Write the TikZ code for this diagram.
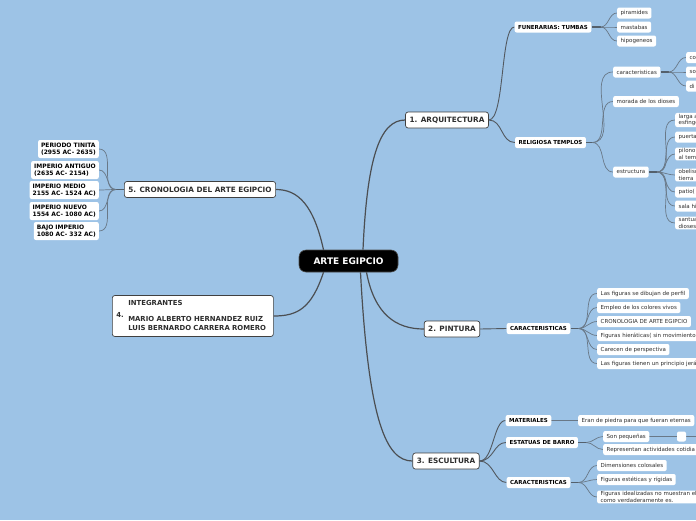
\documentclass[tikz,border=0pt]{standalone}
\usepackage{fontspec}
\setmainfont{DejaVu Sans}
\definecolor{bg}{RGB}{157,195,230}
\definecolor{ln}{RGB}{75,78,82}
\definecolor{brc}{RGB}{105,120,135}
\definecolor{tx}{RGB}{45,45,45}
\pgfdeclarelayer{bglayer}
\pgfdeclarelayer{lines}
\pgfsetlayers{bglayer,lines,main}
\begin{document}
\begin{tikzpicture}[x=1pt,y=-1pt,
 root/.style={fill=black,text=white,rounded corners=7pt,font=\fontsize{9}{10}\selectfont\bfseries,minimum width=99pt,minimum height=22pt,inner sep=2pt,draw=black!70,line width=0.6pt},
 topic/.style={fill=white,draw=black!75,line width=0.7pt,rounded corners=2.5pt,font=\fontsize{7.3}{8.5}\selectfont\bfseries,text=tx,minimum height=16pt,inner xsep=4pt,inner ysep=1pt},
 sub/.style={fill=white,rounded corners=2pt,font=\fontsize{5.5}{6.6}\selectfont\bfseries,text=black,minimum height=11pt,inner xsep=3.5pt,inner ysep=1pt},
 csub/.style={sub,font=\fontsize{6}{7}\selectfont\bfseries,align=left,anchor=east,minimum height=18pt,inner xsep=3pt},
 leaf/.style={fill=white,rounded corners=2pt,font=\fontsize{5.5}{6.7}\selectfont,text=tx,minimum height=11pt,inner xsep=3.5pt,inner ysep=1pt,anchor=west},
 cutleaf/.style={leaf,align=left,text width=40pt},
 mainln/.style={draw=ln,line width=1.2pt},
 toln/.style={draw=ln!75!brc,line width=0.9pt},
 brln/.style={draw=brc,line width=0.7pt},
 stub/.style={draw=brc!80!black,line width=1.8pt}]
\begin{pgfonlayer}{bglayer}
\fill[bg] (0,0) rectangle (696,520);
\end{pgfonlayer}
\useasboundingbox (0,0) rectangle (696,520);

% ---- nodes ----
\node[root] (root) at (348.5,261) {ARTE EGIPCIO};
\node[topic] (arq) at (447,120) {1. ARQUITECTURA};
\node[topic] (pin) at (452,329) {2. PINTURA};
\node[topic] (esc) at (446,461) {3. ESCULTURA};
\node[topic] (cro) at (200,189.5) {5. CRONOLOGIA DEL ARTE EGIPCIO};
\node[topic,text width=153pt,minimum height=41pt,font=\fontsize{6.9}{8.4}\selectfont\bfseries,anchor=west,inner xsep=4pt] (int) at (112,316)
 {4.\hspace{4.5pt}\begin{tabular}[c]{@{}l@{}}INTEGRANTES\\ \\ MARIO ALBERTO HERNANDEZ RUIZ\\ LUIS BERNARDO CARRERA ROMERO\end{tabular}};

% arquitectura
\node[sub] (fun) at (553,27) {FUNERARIAS: TUMBAS};
\node[sub] (rel) at (550.5,142.5) {RELIGIOSA TEMPLOS};
\node[leaf] (pir) at (617,13) {piramides};
\node[leaf] (mas) at (617,27) {mastabas};
\node[leaf] (hip) at (617,41) {hipogeneos};
\node[leaf] (car) at (613,72) {caracteristicas};
\node[leaf] (mor) at (613,101.5) {morada de los dioses};
\node[leaf] (est) at (613,172) {estructura};
\node[cutleaf] (co) at (686,57.5) {co};
\node[cutleaf] (so) at (686,72) {so};
\node[cutleaf] (di) at (686,86) {di};
\node[cutleaf] (e1) at (675,120) {larga a\\esfinge};
\node[cutleaf] (e2) at (675,137) {puerta};
\node[cutleaf] (e3) at (675,154) {pilono\\al tem};
\node[cutleaf] (e4) at (675,175) {obelisc\\tierra};
\node[cutleaf] (e5) at (675,192) {patio(};
\node[cutleaf] (e6) at (675,206) {sala hi};
\node[cutleaf] (e7) at (675,223) {santua\\dioses};

% pintura
\node[sub] (pcar) at (538.5,328.5) {CARACTERISTICAS};
\node[leaf] (p1) at (597,293.5) {Las figuras se dibujan de perfil};
\node[leaf] (p2) at (597,307.5) {Empleo de los colores vivos};
\node[leaf] (p3) at (597,321.5) {CRONOLOGIA DE ARTE EGIPCIO};
\node[leaf,text width=110pt,align=left] (p4) at (597,335.5) {Figuras hieráticas( sin movimiento};
\node[leaf] (p5) at (597,349.5) {Carecen de perspectiva};
\node[leaf,text width=110pt,align=left] (p6) at (597,363.5) {Las figuras tienen un principio jerá};

% escultura
\node[sub] (mat) at (528.5,420.5) {MATERIALES};
\node[sub] (eb) at (542,442.5) {ESTATUAS DE BARRO};
\node[sub] (ecar) at (538.5,482.5) {CARACTERISTICAS};
\node[leaf] (eran) at (578,420.5) {Eran de piedra para que fueran eternas};
\node[leaf] (son) at (603,436.5) {Son pequeñas};
\node[fill=white,rounded corners=2pt,minimum width=9pt,minimum height=10pt,inner sep=0pt] (emp) at (681.5,436.5) {};
\coordinate (sonR) at (700,436.5);
\node[leaf,text width=100pt,align=left] (rep) at (603,449.5) {Representan actividades cotidia};
\node[leaf] (dim) at (597,465.5) {Dimensiones colosales};
\node[leaf] (fig) at (597,479.5) {Figuras estéticas y rígidas};
\node[leaf,align=left,text width=105pt] (ide) at (597,497) {Figuras idealizadas no muestran el\\como verdaderamente es.};

% cronologia
\node[csub] (c1) at (99,149) {PERIODO TINITA\\(2955 AC- 2635)};
\node[csub] (c2) at (99,170) {IMPERIO ANTIGUO\\(2635 AC- 2154)};
\node[csub] (c3) at (99,190) {IMPERIO MEDIO\\2155 AC- 1524 AC)};
\node[csub] (c4) at (99,211) {IMPERIO NUEVO\\1554 AC- 1080 AC)};
\node[csub] (c5) at (99,231) {BAJO IMPERIO\\1080 AC- 332 AC)};

% ---- connectors ----
\begin{pgfonlayer}{lines}
% from root
\draw[mainln] ([xshift=14.5pt]root.north) .. controls +(4,-90) and +(-26,0) .. (arq.west);
\draw[mainln] ([xshift=18pt]root.south) .. controls +(8,42) and +(-28,0) .. (pin.west);
\draw[mainln] ([xshift=12pt]root.south) .. controls +(8,150) and +(-26,0) .. (esc.west);
\draw[mainln] ([xshift=-25pt]root.north) .. controls +(-10,-45) and +(22,0) .. (cro.east);
\draw[mainln] ([xshift=-25pt]root.south) .. controls +(-12,36) and +(24,0) .. (int.east);
% topic -> sub
\draw[toln] (arq.east) .. controls +(16,0) and +(-14,0) .. (fun.west);
\draw[toln] (arq.east) .. controls +(14,0) and +(-14,0) .. (rel.west);
\draw[toln] (pin.east) -- (pcar.west);
\draw[toln] (esc.east) .. controls +(14,0) and +(-12,0) .. (mat.west);
\draw[toln] (esc.east) .. controls +(14,0) and +(-12,0) .. (eb.west);
\draw[toln] (esc.east) .. controls +(14,0) and +(-12,0) .. (ecar.west);
% junctions
\coordinate (funJ) at ([xshift=9pt]fun.east);
\coordinate (relJ) at ([xshift=6pt]rel.east);
\coordinate (carJ) at ([xshift=8pt]car.east);
\coordinate (estJ) at ([xshift=8pt]est.east);
\coordinate (pcarJ) at ([xshift=8pt]pcar.east);
\coordinate (ebJ) at ([xshift=8pt]eb.east);
\coordinate (ecarJ) at ([xshift=8pt]ecar.east);
\coordinate (croJ) at ([xshift=-8pt]cro.west);
\draw[stub] (fun.east) -- (funJ);
\draw[stub] (rel.east) -- (relJ);
\draw[stub] (car.east) -- (carJ);
\draw[stub] (est.east) -- (estJ);
\draw[stub] (pcar.east) -- (pcarJ);
\draw[stub] (eb.east) -- (ebJ);
\draw[stub] (ecar.east) -- (ecarJ);
\draw[stub] (cro.west) -- (croJ);
\foreach \n in {pir,mas,hip} \draw[brln] (funJ) to[out=0,in=180] (\n.west);
\foreach \n in {car,mor,est} \draw[brln] (relJ) to[out=0,in=180] (\n.west);
\foreach \n in {co,so,di} \draw[brln] (carJ) to[out=0,in=180] (\n.west);
\foreach \n in {e1,e2,e3,e4,e5,e6,e7} \draw[brln] (estJ) to[out=0,in=180] (\n.west);
\foreach \n in {p1,p2,p3,p4,p5,p6} \draw[brln] (pcarJ) to[out=0,in=180] (\n.west);
\foreach \n in {son,rep} \draw[brln] (ebJ) to[out=0,in=180] (\n.west);
\foreach \n in {dim,fig,ide} \draw[brln] (ecarJ) to[out=0,in=180] (\n.west);
\foreach \n in {c1,c2,c3,c4,c5} \draw[brln] (croJ) to[out=180,in=0] (\n.east);
\draw[brln,line width=1pt] (mat.east) -- (eran.west);
\draw[brln,line width=1.3pt] (son.east) -- (emp.west);
\draw[brln,line width=1.3pt] (emp.east) -- (sonR);
\end{pgfonlayer}
\end{tikzpicture}
\end{document}
